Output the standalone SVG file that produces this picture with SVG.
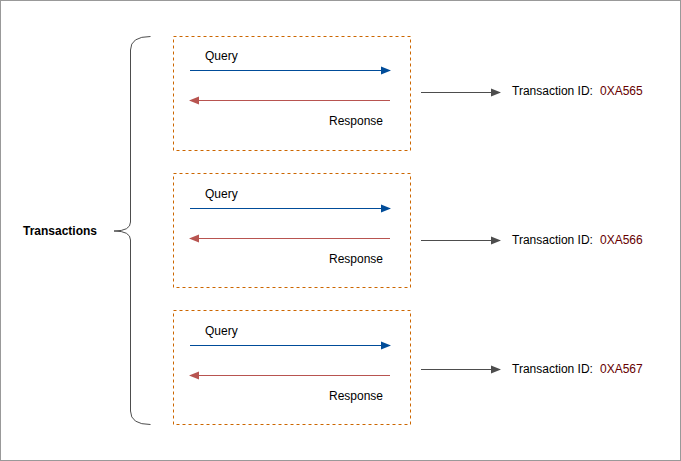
<svg xmlns="http://www.w3.org/2000/svg" width="681" height="461" viewBox="0 0 681 461">
<defs>
<style>
text{font-family:"Liberation Sans",Arial,sans-serif;font-size:12px;fill:#000}
.box{fill:none;stroke:#CC6600;stroke-dasharray:3 3;stroke-width:1}
.q{stroke:#004C99;stroke-width:1;fill:none}
.r{stroke:#B85450;stroke-width:1;fill:none}
.g{stroke:#4D4D4D;stroke-width:1;fill:none}
.id{fill:#660000}
</style>
<marker id="mq" viewBox="0 0 10 10" refX="9" refY="5" markerWidth="10" markerHeight="10" markerUnits="userSpaceOnUse" orient="auto"><path d="M0,1 L10,5 L0,9 Z" fill="#004C99"/></marker>
<marker id="mr" viewBox="0 0 10 10" refX="9" refY="5" markerWidth="10" markerHeight="10" markerUnits="userSpaceOnUse" orient="auto"><path d="M0,1 L10,5 L0,9 Z" fill="#B85450"/></marker>
<marker id="mg" viewBox="0 0 10 10" refX="9" refY="5" markerWidth="10" markerHeight="10" markerUnits="userSpaceOnUse" orient="auto"><path d="M0,1 L10,5 L0,9 Z" fill="#4D4D4D"/></marker>
</defs>
<rect x="0.5" y="0.5" width="680" height="460" fill="#fff" stroke="#999"/>
<g id="brace">
<path class="g" d="M150.5,36.5 Q130.5,36.5 130.5,50 L130.5,222 Q130.5,231 114,231 Q130.5,231 130.5,240 L130.5,411 Q130.5,424.5 150.5,424.5"/>
<text x="23" y="235" font-weight="bold">Transactions</text>
</g>
<g id="t1">
<rect class="box" x="173.5" y="36.5" width="237" height="114"/>
<text x="205" y="60">Query</text>
<text x="329" y="125">Response</text>
</g>
<g id="t2">
<rect class="box" x="173.5" y="173.5" width="237" height="114"/>
<text x="205" y="198">Query</text>
<text x="329" y="263">Response</text>
</g>
<g id="t3">
<rect class="box" x="173.5" y="310.5" width="237" height="114"/>
<text x="205" y="335">Query</text>
<text x="329" y="400">Response</text>
</g>
<g id="id1"><text x="512" y="95">Transaction ID:  <tspan class="id" x="600">0XA565</tspan></text></g>
<g id="id2"><text x="512" y="244">Transaction ID:  <tspan class="id" x="600">0XA566</tspan></text></g>
<g id="id3"><text x="512" y="373">Transaction ID:  <tspan class="id" x="600">0XA567</tspan></text></g>
<g id="connectors">
<line class="q" x1="190" y1="70.5" x2="390" y2="70.5" marker-end="url(#mq)"/>
<line class="r" x1="390" y1="100.5" x2="190" y2="100.5" marker-end="url(#mr)"/>
<line class="q" x1="190" y1="208.5" x2="390" y2="208.5" marker-end="url(#mq)"/>
<line class="r" x1="390" y1="238.5" x2="190" y2="238.5" marker-end="url(#mr)"/>
<line class="q" x1="190" y1="345.5" x2="390" y2="345.5" marker-end="url(#mq)"/>
<line class="r" x1="390" y1="375.5" x2="190" y2="375.5" marker-end="url(#mr)"/>
<line class="g" x1="421" y1="92.5" x2="500" y2="92.5" marker-end="url(#mg)"/>
<line class="g" x1="421" y1="240.5" x2="500" y2="240.5" marker-end="url(#mg)"/>
<line class="g" x1="421" y1="369.5" x2="500" y2="369.5" marker-end="url(#mg)"/>
</g>
</svg>
